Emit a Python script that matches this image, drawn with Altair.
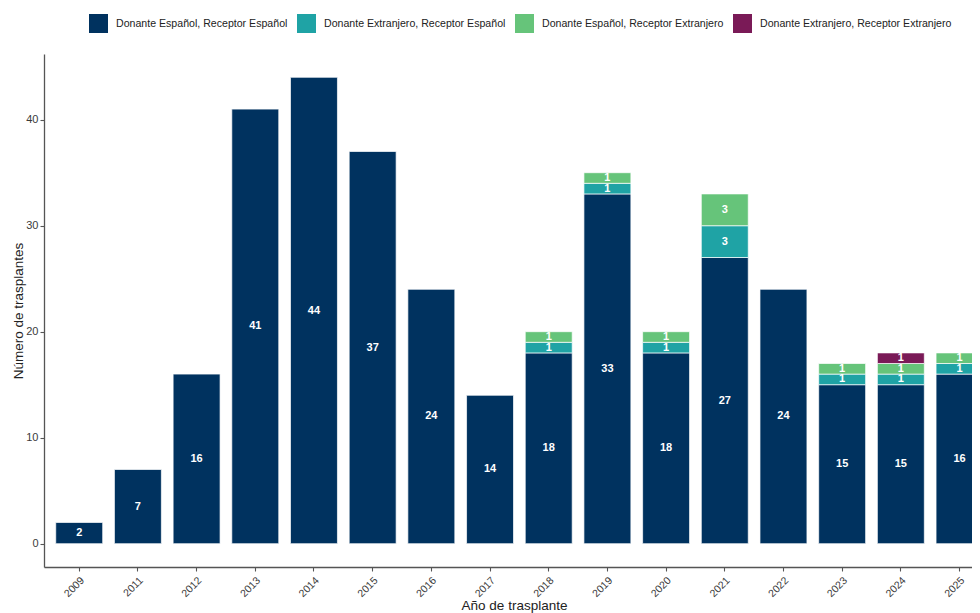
import altair as alt
import pandas as pd

years = ["2009", "2011", "2012", "2013", "2014", "2015", "2016", "2017",
         "2018", "2019", "2020", "2021", "2022", "2023", "2024", "2025"]
esp_esp = [2, 7, 16, 41, 44, 37, 24, 14, 18, 33, 18, 27, 24, 15, 15, 16]
ext_esp = [0, 0, 0, 0, 0, 0, 0, 0, 1, 1, 1, 3, 0, 1, 1, 1]
esp_ext = [0, 0, 0, 0, 0, 0, 0, 0, 1, 1, 1, 3, 0, 1, 1, 1]
ext_ext = [0, 0, 0, 0, 0, 0, 0, 0, 0, 0, 0, 0, 0, 0, 1, 0]
categories = [
    "Donante Español, Receptor Español",
    "Donante Extranjero, Receptor Español",
    "Donante Español, Receptor Extranjero",
    "Donante Extranjero, Receptor Extranjero",
]
colors = ["#00325F", "#1FA3A5", "#66C47A", "#7A1A57"]

series = [esp_esp, ext_esp, esp_ext, ext_ext]
rows = []
for i, yr in enumerate(years):
    for k, cat in enumerate(categories):
        v = series[k][i]
        if v > 0:
            rows.append({"year": yr, "cat": cat, "n": v, "ord": k})
df = pd.DataFrame(rows)

FONT = "Liberation Sans"

base = alt.Chart(df).transform_stack(
    stack="n", groupby=["year"], as_=["y0", "y1"],
    sort=[alt.SortField("ord", order="ascending")]
).transform_calculate(mid="(datum.y0 + datum.y1) / 2")

xenc = alt.X(
    "year:N", sort=years,
    scale=alt.Scale(range=[0, 939], paddingInner=0.2, paddingOuter=0.1, align=1, round=False),
    axis=alt.Axis(title="Año de trasplante", labelAngle=-45, labelAlign="right",
                  labelBaseline="top", labelPadding=4,
                  titleY=38, titleBaseline="middle", titleX=470,
                  labelFontSize=10.5),
)
yscale = alt.Scale(domain=[-2.2, 46.2], nice=False, zero=False)

bars = base.mark_bar(stroke="white", strokeWidth=0.7).encode(
    x=xenc,
    y=alt.Y("y0:Q", scale=yscale,
            axis=alt.Axis(title="Número de trasplantes", values=[0, 10, 20, 30, 40],
                          titlePadding=0)),
    y2="y1:Q",
    color=alt.Color(
        "cat:N",
        scale=alt.Scale(domain=categories, range=colors),
        legend=alt.Legend(
            orient="none", legendX=45, legendY=-40, direction="horizontal",
            title=None, symbolType="square", symbolSize=361, symbolStrokeWidth=0,
            labelFontSize=10.6, labelFont=FONT, labelColor="#222222", labelLimit=0,
            labelOffset=8, columnPadding=9, padding=0, columns=4,
        ),
    ),
    order=alt.Order("ord:Q"),
)

labels = base.mark_text(color="white", fontWeight="bold", fontSize=11, font=FONT).encode(
    x=alt.X("year:N", sort=years),
    y=alt.Y("mid:Q"),
    text=alt.Text("n:Q"),
)

chart = alt.layer(bars, labels).properties(
    width=928, height=513,
    autosize=alt.AutoSizeParams(type="none"),
    padding={"left": 36, "top": 46, "right": 0, "bottom": 46},
).configure_view(stroke=None).configure_axis(
    domainColor="#555555", domainWidth=1.3, tickColor="#555555", tickWidth=1.1,
    tickSize=4, labelFont=FONT, labelFontSize=11, labelColor="#3A3A3A",
    titleFont=FONT, titleFontSize=13.5, titleFontWeight="normal", titleColor="#222222",
    grid=False,
)

chart.save("out.html", embed_options={"renderer": "svg", "actions": False})
